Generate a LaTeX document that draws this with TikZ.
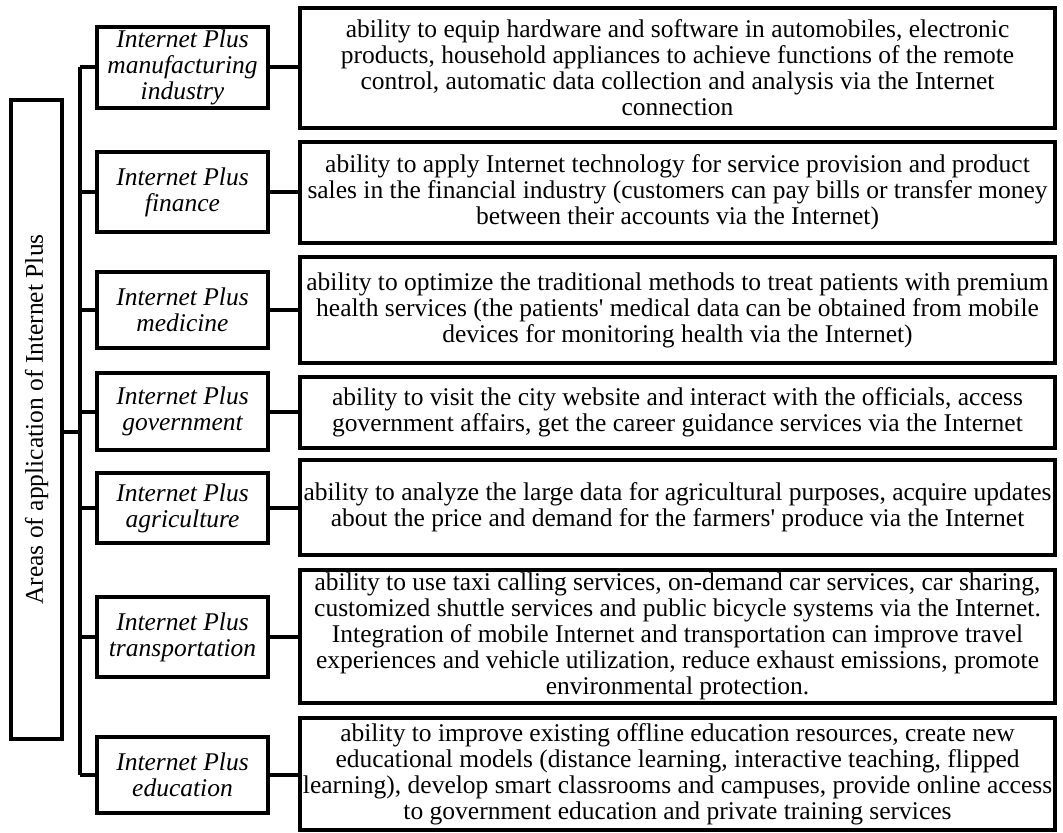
\documentclass[tikz,border=0pt]{standalone}
\usepackage{fontspec}
\setmainfont{Liberation Serif}
\usepackage{graphicx}

\begin{document}
\begin{tikzpicture}[x=0.5pt, y=-0.5pt, line width=2pt,
  box/.style={draw, rectangle, inner sep=0pt, align=center, font=\fontsize{12.75}{13}\selectfont},
  area/.style={box, minimum width=85.5pt, font=\fontsize{12.75}{13}\selectfont\itshape},
  detail/.style={box, minimum width=377.5pt}]
\useasboundingbox (0,0) rectangle (1063,833);
\node[box, minimum width=25.5pt, minimum height=319.5pt] (areas) at (36.5,419.5)
  {\rotatebox{90}{Areas of application of Internet Plus}};
\coordinate (top) at (80,67.5);
\coordinate (bot) at (80,775);
\coordinate (join) at (80,432);
\draw (top) -- (bot);
\draw (areas.east |- join) -- (join);

\node[area, minimum height=40.5pt] (manuf) at (182.5,67.5) {Internet Plus\\manufacturing\\industry};
\node[area, minimum height=40pt] (fin) at (182.5,192) {Internet Plus\\finance};
\node[area, minimum height=38pt] (med) at (182.5,310) {Internet Plus\\medicine};
\node[area, minimum height=38.5pt] (gov) at (182.5,411.5) {Internet Plus\\government};
\node[area, minimum height=35pt] (agri) at (182.5,508) {Internet Plus\\agriculture};
\node[area, minimum height=40pt] (trans) at (182.5,637) {Internet Plus\\transportation};
\node[area, minimum height=38pt] (edu) at (182.5,775) {Internet Plus\\education};

\node[detail, minimum height=60pt] (manufx) at (677.5,68) {ability to equip hardware and software in automobiles, electronic\\products, household appliances to achieve functions of the remote\\control, automatic data collection and analysis via the Internet\\connection};
\node[detail, minimum height=50.5pt] (finx) at (677.5,192.5) {ability to apply Internet technology for service provision and product\\sales in the financial industry (customers can pay bills or transfer money\\between their accounts via the Internet)};
\node[detail, minimum height=53pt] (medx) at (677.5,310) {ability to optimize the traditional methods to treat patients with premium\\health services (the patients\textquotesingle\ medical data can be obtained from mobile\\devices for monitoring health via the Internet)};
\node[detail, minimum height=35.5pt] (govx) at (677.5,412.5) {ability to visit the city website and interact with the officials, access\\government affairs, get the career guidance services via the Internet};
\node[detail, minimum height=47.5pt] (agrix) at (677.5,507.5) {ability to analyze the large data for agricultural purposes, acquire updates\\about the price and demand for the farmers\textquotesingle\ produce via the Internet};
\node[detail, minimum height=66.5pt] (transx) at (677.5,636.5) {ability to use taxi calling services, on-demand car services, car sharing,\\customized shuttle services and public bicycle systems via the Internet.\\Integration of mobile Internet and transportation can improve travel\\experiences and vehicle utilization, reduce exhaust emissions, promote\\environmental protection.};
\node[detail, minimum height=56pt] (edux) at (677.5,774) {ability to improve existing offline education resources, create new\\educational models (distance learning, interactive teaching, flipped\\learning), develop smart classrooms and campuses, provide online access\\to government education and private training services};

\draw (manuf.west -| top) -- (manuf.west);
\draw (fin.west -| top) -- (fin.west);
\draw (med.west -| top) -- (med.west);
\draw (gov.west -| top) -- (gov.west);
\draw (agri.west -| top) -- (agri.west);
\draw (trans.west -| top) -- (trans.west);
\draw (edu.west -| top) -- (edu.west);
\draw (manuf.east) -- (manuf.east -| manufx.west);
\draw (fin.east) -- (fin.east -| finx.west);
\draw (med.east) -- (med.east -| medx.west);
\draw (gov.east) -- (gov.east -| govx.west);
\draw (agri.east) -- (agri.east -| agrix.west);
\draw (trans.east) -- (trans.east -| transx.west);
\draw (edu.east) -- (edu.east -| edux.west);
\end{tikzpicture}
\end{document}
